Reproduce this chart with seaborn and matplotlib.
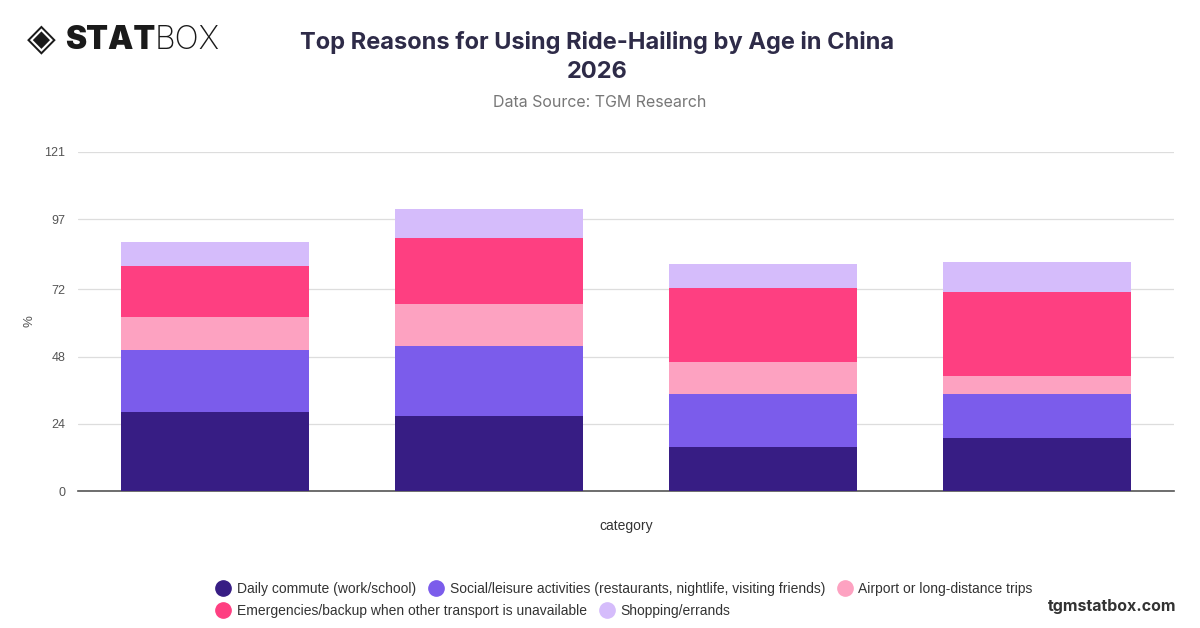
import numpy as np
import pandas as pd
import matplotlib
matplotlib.use("Agg")
import matplotlib.pyplot as plt
import seaborn as sns
from matplotlib.lines import Line2D

# ---- data ----
categories = ["18-24", "25-34", "35-44", "45+"]
series_names = [
    "Daily commute (work/school)",
    "Social/leisure activities (restaurants, nightlife, visiting friends)",
    "Airport or long-distance trips",
    "Emergencies/backup when other transport is unavailable",
    "Shopping/errands",
]
daily_commute = [28.2, 26.8, 15.6, 19.0]
social_leisure = [22.2, 25.1, 19.0, 15.6]
airport_trips = [11.7, 14.8, 11.6, 6.4]
emergencies = [18.3, 23.6, 26.2, 30.0]
shopping = [8.5, 10.3, 8.7, 10.7]
y_ticks = [0, 24, 48, 72, 97, 121]

colors = ["#371d84", "#7b5ceb", "#fda2c1", "#fe3f81", "#d5bcfb"]

series_values = [daily_commute, social_leisure, airport_trips, emergencies, shopping]

sns.set_theme(style="white")
plt.rcParams["font.family"] = ["Liberation Sans", "DejaVu Sans"]

fig = plt.figure(figsize=(12, 6.28), dpi=100)
ax = fig.add_axes([0.065, 0.218, 0.913, 0.540])

cum = np.cumsum(np.array(series_values), axis=0)
# draw from top layer down so lower layers overlap
for i in range(len(series_names) - 1, -1, -1):
    df = pd.DataFrame({"category": categories, "value": cum[i]})
    sns.barplot(data=df, x="category", y="value", order=categories,
                color=colors[i], saturation=1, width=0.686, ax=ax,
                linewidth=0, zorder=3)

ax.set_ylim(0, 121)
ax.set_xlim(-0.5, 3.5)
ax.set_yticks(y_ticks)
ax.set_yticklabels([str(t) for t in y_ticks], fontsize=9, color="#555555")
ax.set_xticks(range(len(categories)))
ax.set_xticklabels([])
ax.tick_params(axis="both", length=0)
ax.tick_params(axis="y", pad=9)
ax.grid(axis="y", color="#dddddd", linewidth=0.9, zorder=0)
ax.set_axisbelow(True)
for s in ["top", "right", "left"]:
    ax.spines[s].set_visible(False)
ax.spines["bottom"].set_color("#555555")
ax.spines["bottom"].set_linewidth(1.2)
ax.set_xlabel("category", fontsize=10, color="#333333")
ax.xaxis.set_label_coords(0.5, -0.083)
ax.set_ylabel("%", fontsize=9.5, color="#555555")
ax.yaxis.set_label_coords(-0.039, 0.5)

# titles
fig.text(0.4975, 0.932, "Top Reasons for Using Ride-Hailing by Age in China",
         ha="center", va="center", fontsize=17, fontweight="bold", color="#2e2b48",
         family=["Inter", "DejaVu Sans"])
fig.text(0.4975, 0.885, "2026", ha="center", va="center", fontsize=17,
         fontweight="bold", color="#2e2b48", family=["Inter", "DejaVu Sans"])
fig.text(0.5, 0.837, "Data Source: TGM Research", ha="center", va="center",
         fontsize=11.5, color="#777777", family=["Inter", "DejaVu Sans"])

# logo
fig.text(0.022, 0.936, "◈", ha="left", va="center", fontsize=27, color="#1a1a1a",
         family=["DejaVu Sans"])
fig.text(0.054, 0.936, "STAT", ha="left", va="center", fontsize=23,
         fontweight="black", color="#1a1a1a", family=["Inter", "DejaVu Sans"])
fig.text(0.129, 0.936, "BOX", ha="left", va="center", fontsize=23,
         fontweight="light", color="#1a1a1a", family=["Inter", "DejaVu Sans"])

# legends (two rows, flowing)
def handles(idx):
    return [Line2D([0], [0], marker="o", linestyle="", markersize=11,
                   markerfacecolor=colors[i], markeredgecolor=colors[i]) for i in idx]

row1 = [0, 1, 2]
row2 = [3, 4]
leg1 = fig.legend(handles(row1), [series_names[i] for i in row1], loc="center left",
                  bbox_to_anchor=(0.170, 0.062), ncol=3, frameon=False, fontsize=10,
                  handletextpad=0.5, columnspacing=0.9, handlelength=1.0)
leg2 = fig.legend(handles(row2), [series_names[i] for i in row2], loc="center left",
                  bbox_to_anchor=(0.170, 0.027), ncol=2, frameon=False, fontsize=10,
                  handletextpad=0.5, columnspacing=0.9, handlelength=1.0)
for leg in (leg1, leg2):
    for t in leg.get_texts():
        t.set_color("#333333")

fig.text(0.98, 0.035, "tgmstatbox.com", ha="right", va="center", fontsize=11.5,
         fontweight="bold", color="#333333", family=["Inter", "DejaVu Sans"])

fig.savefig("out.png", dpi=100)
